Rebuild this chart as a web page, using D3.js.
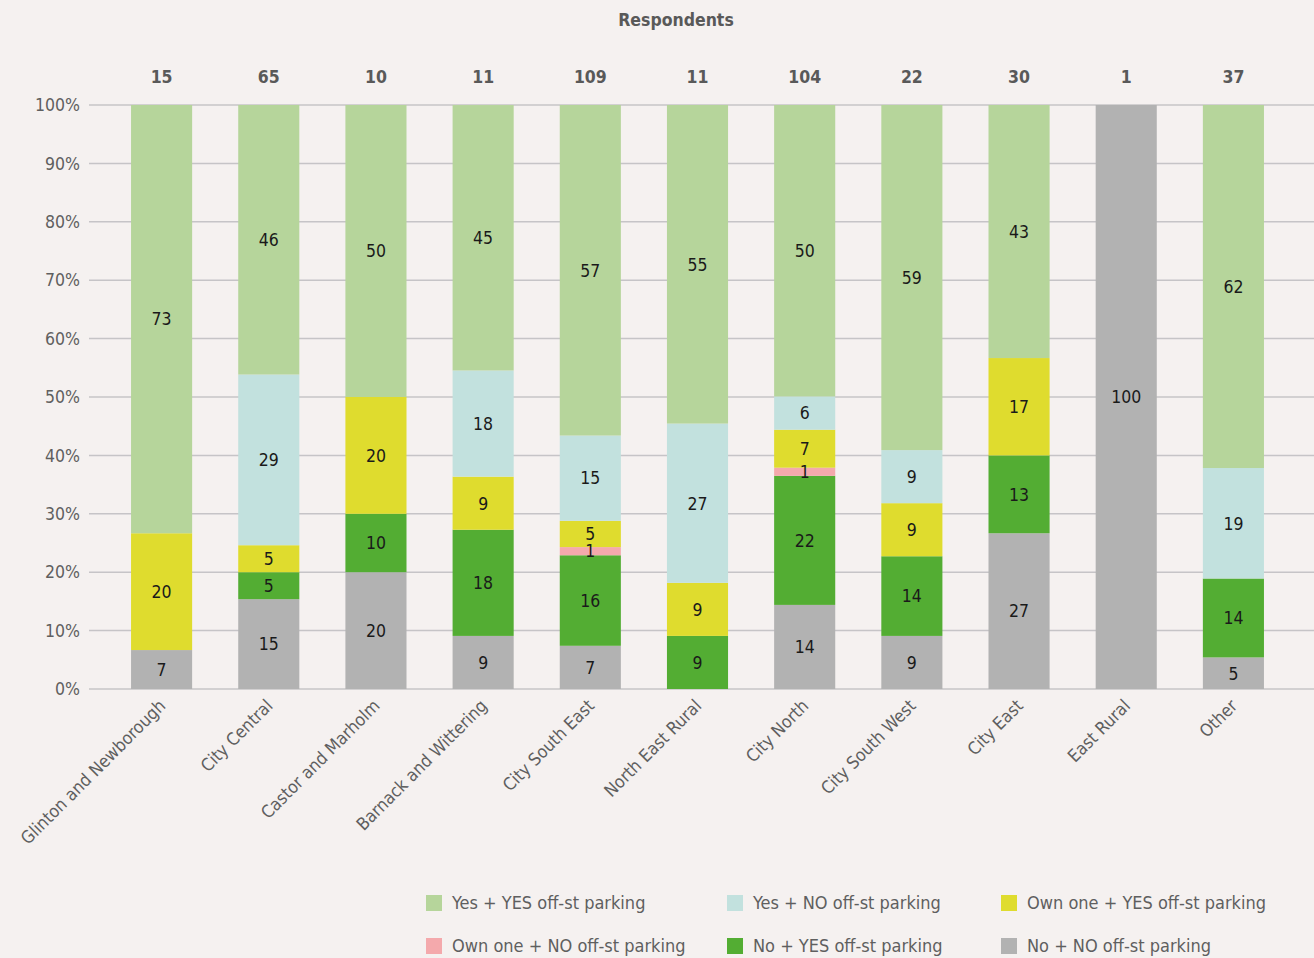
<!DOCTYPE html>
<html><head><meta charset="utf-8">
<script src="https://cdn.jsdelivr.net/npm/d3@7"></script>
<style>
body{margin:0;background:#f5f1f0;}
svg text{font-family:"DejaVu Sans Condensed","Liberation Sans Narrow","Open Sans",sans-serif;}
</style></head>
<body><svg id="c" width="1314" height="958"></svg>
<script>
const categories = ["Glinton and Newborough","City Central","Castor and Marholm","Barnack and Wittering","City South East","North East Rural","City North","City South West","City East","East Rural","Other"];
const respondents = [15,65,10,11,109,11,104,22,30,1,37];
const seriesNames = ["No + NO off-st parking","No + YES off-st parking","Own one + NO off-st parking","Own one + YES off-st parking","Yes + NO off-st parking","Yes + YES off-st parking"];
const noNo     = [6.67,15.38,20,9.09,7.4,0,14.4,9.09,26.67,100,5.41];
const noYes    = [0,4.62,10,18.18,15.5,9.09,22.1,13.64,13.33,0,13.51];
const ownNo    = [0,0,0,0,1.4,0,1.4,0,0,0,0];
const ownYes   = [20,4.62,20,9.09,4.5,9.09,6.5,9.09,16.67,0,0];
const yesNo    = [0,29.23,0,18.18,14.6,27.27,5.7,9.09,0,0,18.92];
const yesYes   = [73.33,46.15,50,45.45,56.6,54.55,49.9,59.09,43.33,0,62.16];
const yTicks = [0,10,20,30,40,50,60,70,80,90,100];
const colors = ["#b2b2b2","#53ad33","#f4a9ac","#dfdc2e","#c2e1de","#b6d59b"];
const legendOrder = [5,4,3,2,1,0];

const seriesValues = [noNo,noYes,ownNo,ownYes,yesNo,yesYes];
const rows = categories.map((c,i)=>{const r={cat:c}; seriesNames.forEach((s,j)=>r[s]=seriesValues[j][i]); return r;});
const stack = d3.stack().keys(seriesNames)(rows);

const svg = d3.select("#c");
const x = d3.scaleBand().domain(categories).range([108,1287]).paddingInner(0.43).paddingOuter(0.215);
const y = d3.scaleLinear().domain([0,100]).range([689,105]);

// gridlines
svg.append("g").selectAll("line").data(yTicks).join("line")
  .attr("x1",89).attr("x2",1314).attr("y1",d=>y(d)).attr("y2",d=>y(d))
  .attr("stroke","#c6c4c7").attr("stroke-width",1.5);

// y axis labels
svg.append("g").selectAll("text").data(yTicks).join("text")
  .attr("x",80).attr("y",d=>y(d)).attr("dy","0.35em").attr("text-anchor","end")
  .attr("font-size",17.5).attr("fill","#5f5f5f").text(d=>d+"%");

// bars
const g = svg.append("g");
stack.forEach((layer,j)=>{
  g.append("g").selectAll("rect").data(layer).join("rect")
    .attr("x",d=>x(d.data.cat)).attr("width",x.bandwidth())
    .attr("y",d=>y(d[1])).attr("height",d=>Math.max(0,y(d[0])-y(d[1])))
    .attr("fill",colors[j]);
});
// value labels
stack.forEach((layer,j)=>{
  const key = layer.key;
  g.append("g").selectAll("text").data(layer.filter(d=>d.data[key]>0)).join("text")
    .attr("x",d=>x(d.data.cat)+x.bandwidth()/2)
    .attr("y",d=>(y(d[0])+y(d[1]))/2).attr("dy","0.36em")
    .attr("text-anchor","middle").attr("font-size",17.5).attr("fill","#1a1a1a")
    .text(d=>Math.round(d.data[key]));
});

// respondents
svg.append("text").attr("x",676).attr("y",20).attr("dy","0.35em").attr("text-anchor","middle")
  .attr("font-size",17.5).attr("font-weight","bold").attr("fill","#595959").text("Respondents");
svg.append("g").selectAll("text").data(categories).join("text")
  .attr("x",d=>x(d)+x.bandwidth()/2).attr("y",77).attr("dy","0.35em").attr("text-anchor","middle")
  .attr("font-size",17.5).attr("font-weight","bold").attr("fill","#595959")
  .text((d,i)=>respondents[i]);

// x labels
svg.append("g").selectAll("text").data(categories).join("text")
  .attr("transform",d=>`translate(${x(d)+x.bandwidth()/2+5},${707}) rotate(-45)`)
  .attr("text-anchor","end").attr("font-size",17.5).attr("fill","#5f5f5f").text(d=>d);

// legend
const legX = [426,727,1001];
const legY = [903,946];
legendOrder.forEach((si,k)=>{
  const lx = legX[k%3], ly = legY[Math.floor(k/3)];
  svg.append("rect").attr("x",lx).attr("y",ly-8).attr("width",16).attr("height",16).attr("fill",colors[si]);
  svg.append("text").attr("x",lx+26).attr("y",ly).attr("dy","0.35em").attr("font-size",18)
    .attr("fill","#5f5f5f").text(seriesNames[si]);
});
</script></body></html>
